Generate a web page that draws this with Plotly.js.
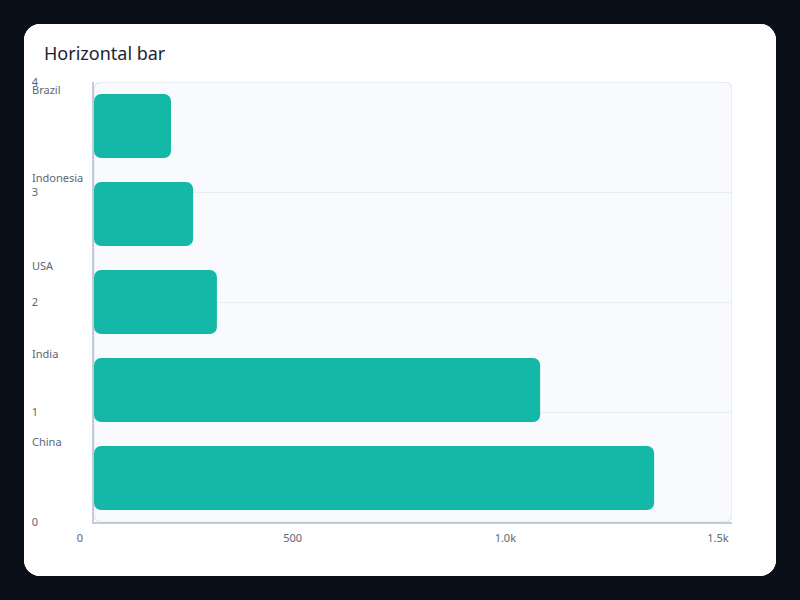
<!DOCTYPE html>
<html>
<head>
<meta charset="utf-8">
<script src="https://cdn.plot.ly/plotly-3.0.1.min.js"></script>
<style>
  html, body { margin: 0; padding: 0; background: #0b0f19; }
  #card {
    position: absolute; left: 24px; top: 24px;
    width: 752px; height: 552px;
    background: #ffffff; border-radius: 16px; overflow: hidden;
  }
  #graph { width: 752px; height: 552px; }
</style>
</head>
<body>
<div id="card"><div id="graph"></div></div>
<script>
const countries = ['China', 'India', 'USA', 'Indonesia', 'Brazil'];
const values = [1317, 1049, 289, 233, 181];
const xTickVals = [0, 500, 1000, 1500];
const xTickText = ['0', '500', '1.0k', '1.5k'];
const yNumTicks = [0, 1, 2, 3, 4];

const W = 752, H = 552;
const margin = { l: 70, r: 44, t: 58, b: 54, pad: 0 };
const plotW = W - margin.l - margin.r;
const plotH = H - margin.t - margin.b;
const teal = '#14b8a6';
const tickColor = '#5b6577';

// an explicit base makes plotly round both ends of the bar
const bars = {
  type: 'bar', orientation: 'h',
  y: countries, x: values, base: values.map(() => 0),
  marker: { color: teal, cornerradius: 7 },
  hovertemplate: '%{y}: %{x}<extra></extra>',
  showlegend: false
};

// rounded plot background, in data units of x / y2
const r = 8;
const ux = 1500 / plotW, uy = 4 / plotH;
const x0 = 0, x1 = 1500, y0 = 0, y1 = 4;
const rx = r * ux, ry = r * uy;
const bgPath = `M ${x0 + rx},${y1} L ${x1 - rx},${y1} Q ${x1},${y1} ${x1},${y1 - ry} ` +
  `L ${x1},${y0 + ry} Q ${x1},${y0} ${x1 - rx},${y0} L ${x0 + rx},${y0} ` +
  `Q ${x0},${y0} ${x0},${y0 + ry} L ${x0},${y1 - ry} Q ${x0},${y1} ${x0 + rx},${y1} Z`;

const labelAnnotations = countries.map((c, i) => ({
  text: c, xref: 'paper', yref: 'y',
  x: -64 / plotW, y: i, xanchor: 'left', yanchor: 'middle',
  yshift: 37, showarrow: false,
  font: { size: 11, color: tickColor }
}));

const layout = {
  width: W, height: H,
  margin: margin,
  paper_bgcolor: '#ffffff',
  plot_bgcolor: 'rgba(0,0,0,0)',
  font: { family: 'Noto Sans, sans-serif', size: 11, color: tickColor },
  title: {
    text: 'Horizontal bar',
    xref: 'container', yref: 'container',
    x: 20 / W, xanchor: 'left',
    y: 1 - 30 / H, yanchor: 'middle',
    font: { size: 18, color: '#1c2333' }
  },
  bargap: 0.27,
  xaxis: {
    range: [0, 1500],
    tickvals: xTickVals, ticktext: xTickText,
    showgrid: false, zeroline: false,
    showline: true, linecolor: '#c3cad8', linewidth: 2,
    ticks: '', ticklabelshift: -14, ticklabelstandoff: 5,
    tickfont: { size: 11, color: tickColor },
    fixedrange: true
  },
  yaxis: {
    type: 'category', categoryorder: 'array', categoryarray: countries,
    range: [-0.5, 4.5],
    showgrid: false, zeroline: false, showticklabels: false,
    showline: true, linecolor: '#c3cad8', linewidth: 2,
    ticks: '', fixedrange: true
  },
  yaxis2: {
    overlaying: 'y', side: 'left',
    range: [0, 4],
    tickvals: yNumTicks,
    showgrid: true, gridcolor: '#e8ecf3', gridwidth: 1,
    zeroline: false, showline: false, ticks: '',
    ticklabelstandoff: 55,
    tickfont: { size: 11, color: tickColor },
    fixedrange: true
  },
  shapes: [{
    type: 'path', xref: 'x', yref: 'y2', path: bgPath,
    fillcolor: '#f8fafd', line: { color: '#e6eaf1', width: 1.5 },
    layer: 'below'
  }],
  annotations: labelAnnotations
};

Plotly.newPlot('graph', [bars], layout, { displayModeBar: false, responsive: false });
</script>
</body>
</html>
